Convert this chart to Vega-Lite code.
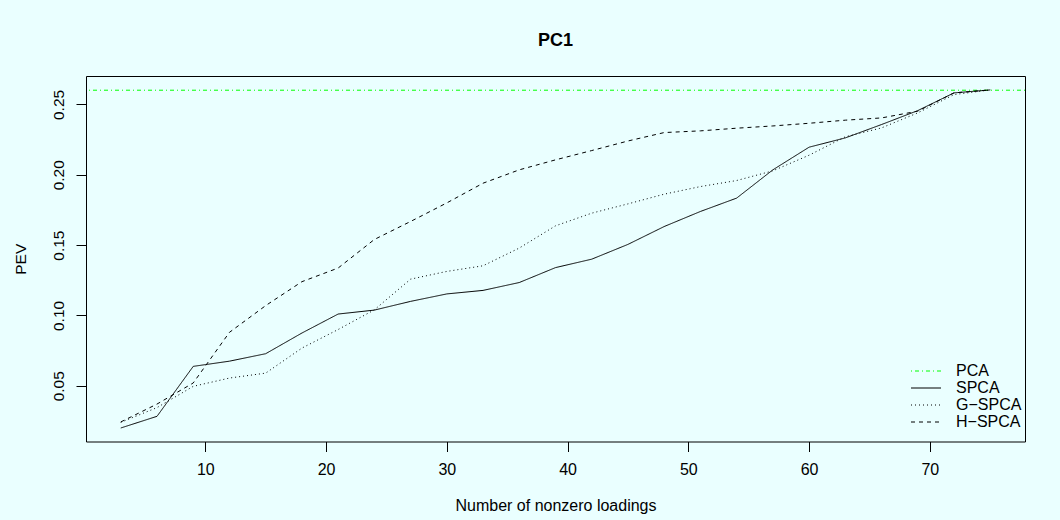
{
  "$schema": "https://vega.github.io/schema/vega-lite/v6.json",
  "width": 939,
  "height": 365.5,
  "autosize": "none",
  "padding": {"left": 86, "top": 76, "right": 35, "bottom": 78.5},
  "background": "#EAFFFF",
  "title": {
    "text": "PC1",
    "font": "Liberation Sans",
    "fontSize": 18,
    "fontWeight": "bold",
    "color": "black",
    "anchor": "middle",
    "frame": "group",
    "offset": 26
  },
  "config": {
    "view": {"stroke": "black", "strokeWidth": 1, "fill": null},
    "axis": {
      "domain": false,
      "grid": false,
      "ticks": true,
      "tickColor": "black",
      "tickSize": 10,
      "labelColor": "black",
      "labelFont": "Liberation Sans",
      "labelFontSize": 16,
      "titleColor": "black",
      "titleFont": "Liberation Sans",
      "titleFontSize": 16,
      "titleFontWeight": "normal"
    },
    "legend": {
      "orient": "none",
      "legendX": 832,
      "legendY": 287,
      "padding": 0,
      "labelFont": "Liberation Sans",
      "labelFontSize": 16,
      "labelColor": "black",
      "rowPadding": 1,
      "labelOffset": 22
    }
  },
  "datasets": {
    "pca": [{"s": "PCA", "v": 0.2601}],
    "curves": [
      {"s": "SPCA", "x": 3, "v": 0.0200},
      {"s": "SPCA", "x": 6, "v": 0.0283},
      {"s": "SPCA", "x": 9, "v": 0.0638},
      {"s": "SPCA", "x": 12, "v": 0.0675},
      {"s": "SPCA", "x": 15, "v": 0.0728},
      {"s": "SPCA", "x": 18, "v": 0.0875},
      {"s": "SPCA", "x": 21, "v": 0.1010},
      {"s": "SPCA", "x": 24, "v": 0.1038},
      {"s": "SPCA", "x": 27, "v": 0.1100},
      {"s": "SPCA", "x": 30, "v": 0.1153},
      {"s": "SPCA", "x": 33, "v": 0.1178},
      {"s": "SPCA", "x": 36, "v": 0.1234},
      {"s": "SPCA", "x": 39, "v": 0.1340},
      {"s": "SPCA", "x": 42, "v": 0.1400},
      {"s": "SPCA", "x": 45, "v": 0.1505},
      {"s": "SPCA", "x": 48, "v": 0.1632},
      {"s": "SPCA", "x": 51, "v": 0.1739},
      {"s": "SPCA", "x": 54, "v": 0.1834},
      {"s": "SPCA", "x": 57, "v": 0.2035},
      {"s": "SPCA", "x": 60, "v": 0.2196},
      {"s": "SPCA", "x": 63, "v": 0.2262},
      {"s": "SPCA", "x": 66, "v": 0.2357},
      {"s": "SPCA", "x": 69, "v": 0.2456},
      {"s": "SPCA", "x": 72, "v": 0.2582},
      {"s": "SPCA", "x": 75, "v": 0.2603},
      {"s": "G−SPCA", "x": 3, "v": 0.0240},
      {"s": "G−SPCA", "x": 6, "v": 0.0345},
      {"s": "G−SPCA", "x": 9, "v": 0.0496},
      {"s": "G−SPCA", "x": 12, "v": 0.0555},
      {"s": "G−SPCA", "x": 15, "v": 0.0590},
      {"s": "G−SPCA", "x": 18, "v": 0.0768},
      {"s": "G−SPCA", "x": 21, "v": 0.0900},
      {"s": "G−SPCA", "x": 24, "v": 0.1040},
      {"s": "G−SPCA", "x": 27, "v": 0.1258},
      {"s": "G−SPCA", "x": 30, "v": 0.1313},
      {"s": "G−SPCA", "x": 33, "v": 0.1353},
      {"s": "G−SPCA", "x": 36, "v": 0.1479},
      {"s": "G−SPCA", "x": 39, "v": 0.1637},
      {"s": "G−SPCA", "x": 42, "v": 0.1727},
      {"s": "G−SPCA", "x": 45, "v": 0.1793},
      {"s": "G−SPCA", "x": 48, "v": 0.1862},
      {"s": "G−SPCA", "x": 51, "v": 0.1916},
      {"s": "G−SPCA", "x": 54, "v": 0.1959},
      {"s": "G−SPCA", "x": 57, "v": 0.2028},
      {"s": "G−SPCA", "x": 60, "v": 0.2139},
      {"s": "G−SPCA", "x": 63, "v": 0.2270},
      {"s": "G−SPCA", "x": 66, "v": 0.2333},
      {"s": "G−SPCA", "x": 69, "v": 0.2440},
      {"s": "G−SPCA", "x": 72, "v": 0.2570},
      {"s": "G−SPCA", "x": 75, "v": 0.2603},
      {"s": "H−SPCA", "x": 3, "v": 0.0243},
      {"s": "H−SPCA", "x": 6, "v": 0.0370},
      {"s": "H−SPCA", "x": 9, "v": 0.0520},
      {"s": "H−SPCA", "x": 12, "v": 0.0880},
      {"s": "H−SPCA", "x": 15, "v": 0.1070},
      {"s": "H−SPCA", "x": 18, "v": 0.1240},
      {"s": "H−SPCA", "x": 21, "v": 0.1337},
      {"s": "H−SPCA", "x": 24, "v": 0.1540},
      {"s": "H−SPCA", "x": 27, "v": 0.1668},
      {"s": "H−SPCA", "x": 30, "v": 0.1800},
      {"s": "H−SPCA", "x": 33, "v": 0.1940},
      {"s": "H−SPCA", "x": 36, "v": 0.2035},
      {"s": "H−SPCA", "x": 39, "v": 0.2106},
      {"s": "H−SPCA", "x": 42, "v": 0.2172},
      {"s": "H−SPCA", "x": 45, "v": 0.2240},
      {"s": "H−SPCA", "x": 48, "v": 0.2300},
      {"s": "H−SPCA", "x": 51, "v": 0.2312},
      {"s": "H−SPCA", "x": 54, "v": 0.2331},
      {"s": "H−SPCA", "x": 57, "v": 0.2347},
      {"s": "H−SPCA", "x": 60, "v": 0.2366},
      {"s": "H−SPCA", "x": 63, "v": 0.2388},
      {"s": "H−SPCA", "x": 66, "v": 0.2404},
      {"s": "H−SPCA", "x": 69, "v": 0.2452},
      {"s": "H−SPCA", "x": 72, "v": 0.2582},
      {"s": "H−SPCA", "x": 75, "v": 0.2603}
    ]
  },
  "layer": [
    {
      "data": {"name": "pca"},
      "mark": {"type": "rule", "strokeWidth": 1},
      "encoding": {
        "y": {
          "field": "v",
          "type": "quantitative",
          "scale": {"domain": [0.0104, 0.2702], "nice": false, "zero": false},
          "axis": {
            "values": [0.05, 0.1, 0.15, 0.2, 0.25],
            "format": ".2f",
            "labelFontSize": 15.5,
            "labelAngle": 270,
            "labelAlign": "center",
            "labelBaseline": "alphabetic",
            "labelPadding": 13,
            "title": "PEV",
            "titleFontSize": 15.5,
            "titleAngle": 270,
            "titleAlign": "center",
            "titleBaseline": "alphabetic",
            "titleX": -61,
            "titleY": 182.75
          }
        },
        "color": {
          "field": "s",
          "type": "nominal",
          "scale": {"domain": ["PCA", "SPCA", "G−SPCA", "H−SPCA"], "range": ["#00FF00", "black", "black", "black"]},
          "legend": {"title": null, "symbolType": "M-3,0H3", "symbolSize": 100, "symbolStrokeWidth": 1}
        },
        "strokeDash": {
          "field": "s",
          "type": "nominal",
          "scale": {"domain": ["PCA", "SPCA", "G−SPCA", "H−SPCA"], "range": [[1, 3, 4, 3], [1, 0], [1, 3], [4, 4]]},
          "legend": {"title": null, "symbolType": "M-3,0H3", "symbolSize": 100, "symbolStrokeWidth": 1}
        }
      }
    },
    {
      "data": {"name": "curves"},
      "mark": {"type": "line", "strokeWidth": 1},
      "encoding": {
        "x": {
          "field": "x",
          "type": "quantitative",
          "scale": {"domain": [0.12, 77.88], "nice": false, "zero": false},
          "axis": {
            "values": [10, 20, 30, 40, 50, 60, 70],
            "labelBaseline": "alphabetic",
            "labelPadding": 23,
            "title": "Number of nonzero loadings",
            "titleBaseline": "alphabetic",
            "titleY": 69
          }
        },
        "y": {"field": "v", "type": "quantitative"},
        "color": {"field": "s", "type": "nominal"},
        "strokeDash": {"field": "s", "type": "nominal"}
      }
    }
  ]
}
